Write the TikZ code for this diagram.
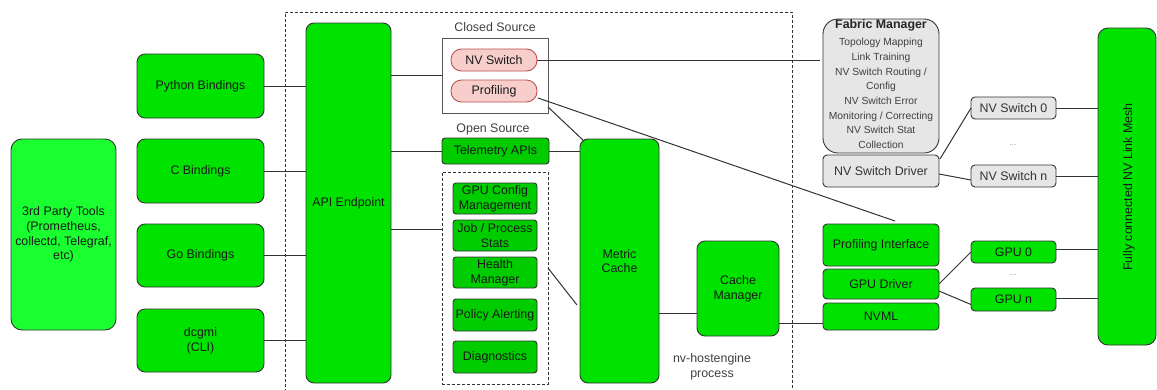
\documentclass[tikz,border=0pt]{standalone}
\usepackage{fontspec}
\setmainfont{Liberation Sans}
\definecolor{lgreen}{HTML}{1AFF30}
\definecolor{mgreen}{HTML}{00E300}
\definecolor{dgreen}{HTML}{00CC00}
\definecolor{pinkf}{HTML}{F8CECC}
\definecolor{pinkd}{HTML}{B85450}
\definecolor{grayf}{HTML}{E6E6E6}
\definecolor{linec}{HTML}{333333}
\newcommand{\mybox}[7]{\node[#1, minimum width={(#5-#3)*1pt}, minimum height={(#6-#4)*1pt}, anchor=north west] (#2) at (#3,#4) {#7};}
\begin{document}
\begin{tikzpicture}[x=1pt,y=-1pt,
  every node/.style={inner sep=0pt, outer sep=0pt, align=center, font=\fontsize{12.4}{14.6}\selectfont, text=black!90},
  base/.style={draw=linec, line width=0.9pt},
  gbox/.style={base, fill=mgreen, rounded corners=8pt},
  sbox/.style={base, fill=mgreen, rounded corners=4pt},
  dbox/.style={base, fill=dgreen, rounded corners=3pt},
  lbox/.style={base, fill=lgreen, rounded corners=11pt},
  pill/.style={draw=pinkd, line width=0.9pt, fill=pinkf, rounded corners=10.5pt},
  graybox/.style={base, fill=grayf, rounded corners=4pt, text=black!80},
  conn/.style={draw=linec, line width=1pt},
  dashedbox/.style={draw=linec, line width=0.9pt, dash pattern=on 3pt off 2pt},
  plain/.style={text=black!75}]
\useasboundingbox (0,0) rectangle (1157,389);
% outer dashed process area
\draw[dashedbox] (285,392) -- (285,12) -- (792,12) -- (792,392);
% left column
\mybox{lbox}{third}{11}{139}{116}{330}{3rd Party Tools\\(Prometheus,\\collectd, Telegraf,\\etc)}
\mybox{gbox}{py}{137}{54}{264}{118}{Python Bindings}
\mybox{gbox}{cb}{137}{139}{264}{203}{C Bindings}
\mybox{gbox}{go}{137}{224}{264}{287}{Go Bindings}
\mybox{gbox}{dcgmi}{137}{309}{264}{372}{dcgmi\\(CLI)}
\mybox{gbox}{api}{306}{23}{391}{383}{API Endpoint}
% closed source
\node[plain] (closedlbl) at (495,27) {Closed Source};
\mybox{draw=black!65, line width=0.9pt, fill=white}{closed}{442}{38}{548}{113}{}
\mybox{pill}{nvsw}{451}{49}{537}{71}{NV Switch}
\mybox{pill}{prof}{451}{80}{537}{102}{Profiling}
% open source
\node[plain] (openlbl) at (493,129) {Open Source};
\mybox{dbox}{tele}{442}{138}{549}{164}{Telemetry APIs}
\mybox{dashedbox}{inner}{442}{172}{548}{384}{}
\mybox{dbox}{gpucfg}{453}{183}{537}{214}{GPU Config\\Management}
\mybox{dbox}{job}{453}{220}{537}{251}{Job / Process\\Stats}
\mybox{dbox}{health}{453}{257}{537}{288}{Health\\Manager}
\mybox{dbox}{policy}{453}{299}{537}{331}{Policy Alerting}
\mybox{dbox}{diag}{453}{341}{537}{373}{Diagnostics}
% core
\mybox{gbox}{metric}{580}{139}{659}{383}{Metric\\Cache}
\mybox{gbox}{cachemgr}{697}{241}{779}{336}{Cache\\Manager}
\node[plain] (nvhe) at (712,367) {nv-hostengine\\process};
% right side
\mybox{graybox, rounded corners=15pt}{fabric}{823}{19}{939}{153}{}
\node[text=black!85] (fabtitle) at (881,25) {\bfseries Fabric Manager};
\node[text=black!75, font=\fontsize{10.3}{14.7}\selectfont] (fabbody) at (881,93.5) {Topology Mapping\\Link Training\\NV Switch Routing /\\Config\\NV Switch Error\\Monitoring / Correcting\\NV Switch Stat\\Collection};
\mybox{graybox}{nvsdrv}{823}{155}{939}{187}{NV Switch Driver}
\mybox{graybox}{nvs0}{971}{97}{1056}{119}{NV Switch 0}
\mybox{graybox}{nvsn}{971}{165}{1056}{187}{NV Switch n}
\node[text=black!45, font=\fontsize{8}{9}\selectfont] (dots1) at (1013,145) {...};
\mybox{sbox}{profint}{823}{224}{939}{266}{Profiling Interface}
\mybox{sbox}{gpudrv}{823}{269}{939}{299}{GPU Driver}
\mybox{sbox}{nvml}{823}{303}{939}{330}{NVML}
\mybox{sbox}{gpu0}{971}{241}{1056}{263}{GPU 0}
\mybox{sbox}{gpun}{971}{288}{1056}{311}{GPU n}
\node[text=black!45, font=\fontsize{8}{9}\selectfont] (dots2) at (1013,275) {...};
\mybox{gbox, rounded corners=10pt}{mesh}{1098}{28}{1156}{345}{}
\node[rotate=90] (meshlbl) at (1129,187) {Fully connected NV Link Mesh};
% connectors: bindings to API
\draw[conn] (py.east) -- (py.east -| api.west);
\draw[conn] (cb.east) -- (cb.east -| api.west);
\draw[conn] (go.east) -- (go.east -| api.west);
\draw[conn] (dcgmi.east) -- (dcgmi.east -| api.west);
% API to source groups
\draw[conn] (closed.west) -- (closed.west -| api.east);
\draw[conn] (tele.west) -- (tele.west -| api.east);
\coordinate (innerin) at ([yshift=-57pt]inner.north west);
\draw[conn] (innerin) -- (innerin -| api.east);
% to metric cache
\draw[conn] (tele.east) -- (tele.east -| metric.west);
\coordinate (closedout) at ([yshift=6pt]closed.south east);
\coordinate (metrictop) at ([xshift=4pt,yshift=-2pt]metric.north west);
\draw[conn] (closedout) -- (metrictop);
\coordinate (healthout) at ([yshift=-96pt]inner.north east);
\coordinate (metricin) at ([xshift=-3pt,yshift=-166pt]metric.north west);
\draw[conn] (healthout) -- (metricin);
\coordinate (mcout) at ([yshift=-174pt]metric.north east);
\draw[conn] (mcout) -- (mcout -| cachemgr.west);
\coordinate (cmout) at ([yshift=-82pt]cachemgr.north east);
\draw[conn] (cmout) -- (cmout -| nvml.west);
% closed source to right side
\draw[conn, shorten >=3pt] (nvsw.east) -- (nvsw.east -| fabric.west);
\coordinate (profout) at ([xshift=1pt,yshift=-7pt]prof.east);
\coordinate (profintin) at ([xshift=14pt,yshift=3pt]profint.north);
\draw[conn] (profout) -- (profintin);
% NV switch driver
\coordinate (drvup) at ([xshift=1pt,yshift=-4pt]nvsdrv.north east);
\draw[conn] (drvup) -- (nvs0.west);
\coordinate (drvdn) at ([yshift=-3pt]nvsdrv.east);
\coordinate (nvsnin) at ([yshift=-4pt]nvsn.west);
\draw[conn] (drvdn) -- (nvsnin);
\draw[conn] (nvs0.east) -- (nvs0.east -| mesh.west);
\draw[conn] (nvsn.east) -- (nvsn.east -| mesh.west);
% GPU driver
\draw[conn] (gpudrv.east) -- (gpu0.west);
\coordinate (gdrvdn) at ([yshift=-7pt]gpudrv.east);
\coordinate (gpunin) at ([yshift=-5pt]gpun.west);
\draw[conn] (gdrvdn) -- (gpunin);
\coordinate (gpu0out) at ([yshift=3pt]gpu0.east);
\draw[conn] (gpu0out) -- (gpu0out -| mesh.west);
\coordinate (gpunout) at ([yshift=1.5pt]gpun.east);
\draw[conn] (gpunout) -- (gpunout -| mesh.west);
\end{tikzpicture}
\end{document}
